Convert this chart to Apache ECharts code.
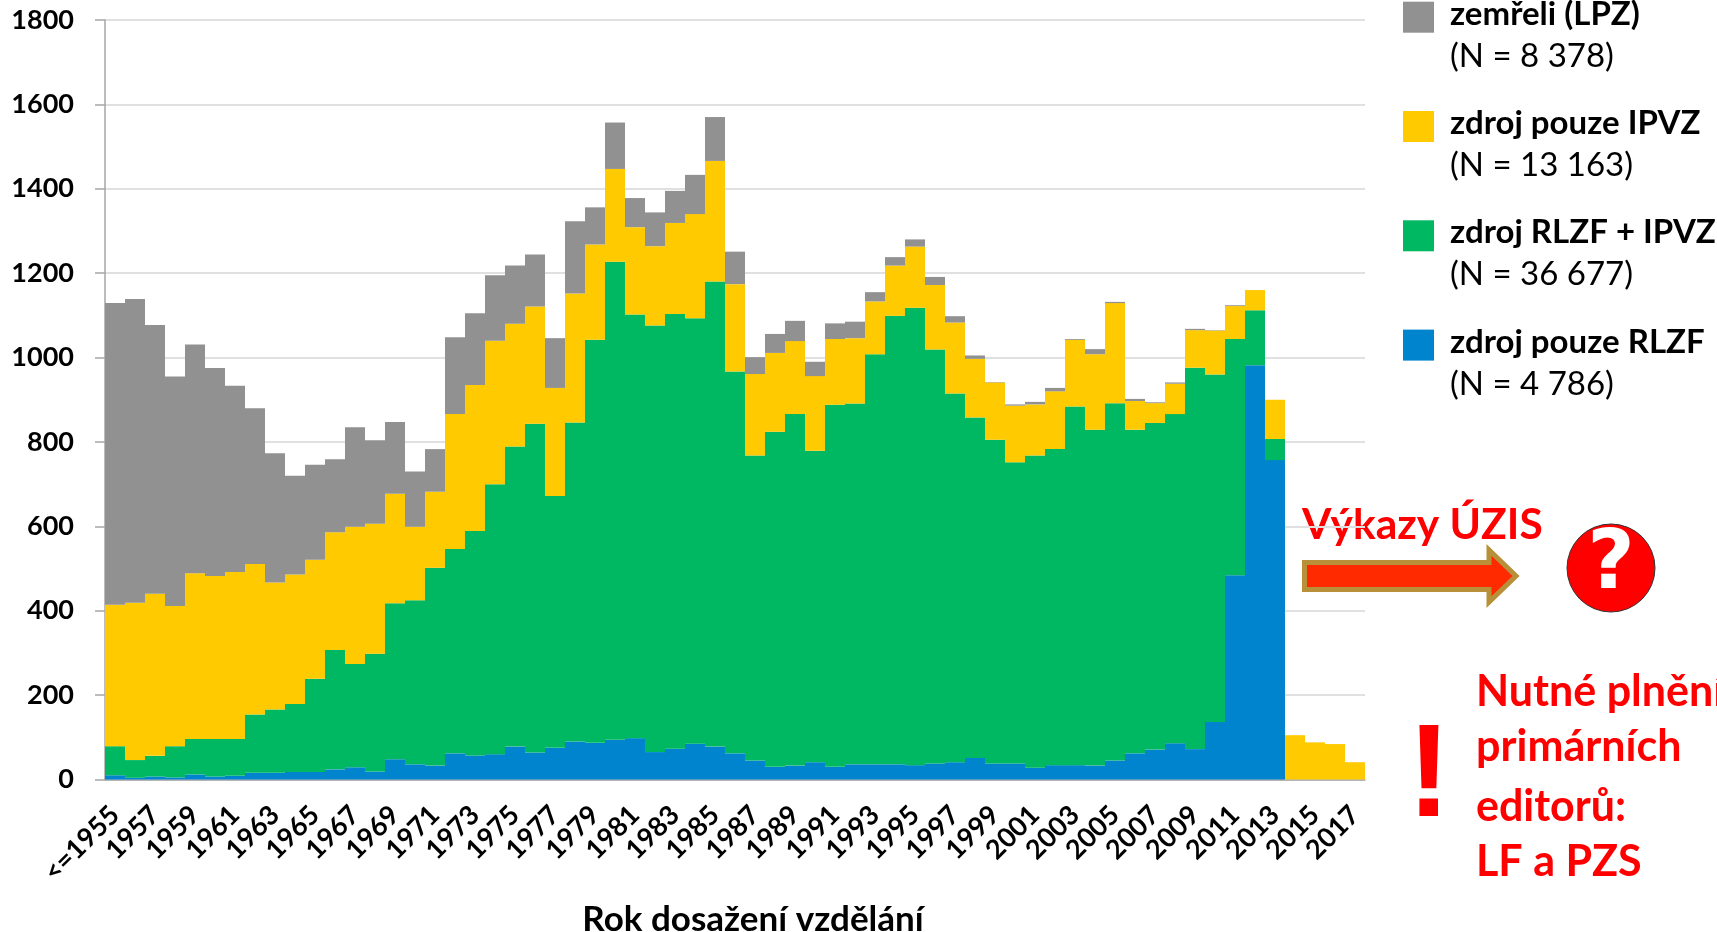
<!DOCTYPE html>
<html>
<head>
<meta charset="utf-8">
<title>Rok dosažení vzdělání</title>
<script src="https://cdn.jsdelivr.net/npm/echarts@6/dist/echarts.min.js"></script>
<style>
  html, body { margin: 0; padding: 0; background: #fff; overflow: hidden; }
  #chart { width: 1717px; height: 932px; }
</style>
</head>
<body>
<div id="chart"></div>
<script>
const years = [
  "<=1955", "1956", "1957", "1958", "1959", "1960", "1961", "1962", "1963", "1964", "1965",
  "1966", "1967", "1968", "1969", "1970", "1971", "1972", "1973", "1974", "1975",
  "1976", "1977", "1978", "1979", "1980", "1981", "1982", "1983", "1984", "1985",
  "1986", "1987", "1988", "1989", "1990", "1991", "1992", "1993", "1994", "1995",
  "1996", "1997", "1998", "1999", "2000", "2001", "2002", "2003", "2004", "2005",
  "2006", "2007", "2008", "2009", "2010", "2011", "2012", "2013", "2014", "2015",
  "2016", "2017",
];
const pouzeRlzf = [
  10, 4, 7, 5, 12, 7, 9, 16, 16, 18, 18,
  24, 29, 19, 48, 36, 33, 62, 57, 60, 78,
  64, 75, 90, 87, 94, 98, 65, 73, 85, 78,
  62, 45, 30, 33, 41, 30, 36, 36, 36, 34,
  38, 41, 51, 38, 38, 28, 34, 34, 33, 45,
  62, 71, 86, 72, 136, 484, 982, 757, 0, 0,
  0, 0,
];
const rlzfIpvz = [
  69, 42, 49, 74, 84, 89, 87, 138, 150, 161, 221,
  283, 245, 279, 370, 389, 469, 484, 532, 640, 711,
  779, 597, 756, 955, 1133, 1004, 1011, 1030, 1008, 1102,
  905, 723, 794, 833, 738, 858, 855, 972, 1063, 1084,
  981, 874, 807, 767, 714, 740, 749, 850, 796, 847,
  767, 774, 780, 904, 824, 560, 130, 50, 0, 0,
  0, 0,
];
const pouzeIpvz = [
  335, 373, 384, 332, 393, 386, 396, 357, 301, 307, 282,
  279, 325, 308, 259, 174, 180, 320, 346, 340, 291,
  278, 256, 306, 226, 220, 207, 188, 216, 247, 286,
  207, 193, 187, 173, 177, 156, 155, 125, 119, 145,
  153, 168, 139, 136, 134, 121, 137, 158, 179, 237,
  68, 47, 72, 89, 104, 78, 48, 93, 105, 88,
  84, 41,
];
const zemreli = [
  715, 720, 637, 544, 542, 493, 441, 369, 306, 234, 225,
  173, 236, 198, 170, 131, 101, 182, 170, 155, 138,
  123, 118, 171, 88, 110, 69, 80, 76, 93, 104,
  77, 40, 45, 48, 34, 37, 39, 22, 20, 17,
  19, 15, 8, 1, 3, 6, 8, 2, 12, 3,
  5, 2, 3, 3, 1, 2, 0, 0, 0, 0,
  0, 0,
];
const legendCounts = {
  "zemřeli (LPZ)": "8 378",
  "zdroj pouze IPVZ": "13 163",
  "zdroj RLZF + IPVZ": "36 677",
  "zdroj pouze RLZF": "4 786",
};

const font = "Lato";
const chart = echarts.init(document.getElementById("chart"));

function barSeries(name, color, data) {
  return {
    name: name,
    type: "bar",
    stack: "all",
    barCategoryGap: 0,
    itemStyle: { color: color, borderWidth: 0 },
    data: data,
  };
}

function redText(text, x, y, size) {
  return {
    type: "text",
    x: x,
    y: y,
    style: {
      text: text,
      fontFamily: font,
      fontWeight: "bold",
      fontSize: size,
      fill: "#ff0000",
      verticalAlign: "middle",
    },
  };
}

const option = {
  animation: false,
  backgroundColor: "#fff",
  textStyle: { fontFamily: font },
  grid: { left: 105, right: 352, top: 20, bottom: 152.5, outerBoundsMode: "none" },
  legend: {
    orient: "vertical",
    left: 1403,
    top: -44.3,
    itemWidth: 31,
    itemHeight: 31,
    itemGap: -7.7,
    icon: "rect",
    padding: 0,
    itemStyle: { borderWidth: 0 },
    data: Object.keys(legendCounts),
    formatter: (name) => `{b| }\n{b|${name}}\n{n|(N = ${legendCounts[name]})}`,
    textStyle: {
      padding: [0, 0, 6, 11],
      rich: {
        b: { fontFamily: font, fontWeight: "bold", fontSize: 33, lineHeight: 42, color: "#000" },
        n: { fontFamily: font, fontSize: 33, lineHeight: 42, color: "#000" },
      },
    },
  },
  xAxis: {
    type: "category",
    data: years,
    name: "Rok dosažení vzdělání",
    nameLocation: "middle",
    nameGap: 123,
    nameTextStyle: {
      fontFamily: font,
      fontWeight: "bold",
      fontSize: 35,
      color: "#000",
      padding: [0, 0, 0, 36],
    },
    axisLine: { lineStyle: { color: "#a6a6a6", width: 1.5 } },
    axisTick: { interval: 0, length: 10, lineStyle: { color: "#a6a6a6", width: 1.5 } },
    axisLabel: {
      interval: 1,
      rotate: 45,
      margin: 31,
      fontFamily: font,
      fontWeight: "bold",
      fontSize: 27,
      color: "#000",
    },
  },
  yAxis: {
    type: "value",
    min: 0,
    max: 1800,
    interval: 200,
    axisLine: { show: true, lineStyle: { color: "#a6a6a6", width: 1.5 } },
    axisTick: { show: true, length: 10, lineStyle: { color: "#a6a6a6", width: 1.5 } },
    splitLine: { lineStyle: { color: "#e0e0e0", width: 2 } },
    axisLabel: {
      margin: 31,
      padding: [6, 0, 0, 0],
      fontFamily: font,
      fontWeight: "bold",
      fontSize: 27,
      color: "#000",
      formatter: (v) => String(v),
    },
  },
  series: [
    barSeries("zdroj pouze RLZF", "#0084CE", pouzeRlzf),
    barSeries("zdroj RLZF + IPVZ", "#00B862", rlzfIpvz),
    barSeries("zdroj pouze IPVZ", "#FFCA00", pouzeIpvz),
    barSeries("zemřeli (LPZ)", "#919191", zemreli),
  ],
  graphic: [
    // annotations to the right of the plot
    redText("Výkazy ÚZIS", 1302, 525, 42.5),
    {
      type: "polygon",
      shape: {
        points: [
          [1304.5, 562.5], [1489, 562.5], [1489, 550], [1516, 576],
          [1489, 602], [1489, 589.5], [1304.5, 589.5],
        ],
      },
      style: { fill: "#FF2A00", stroke: "#B8903A", lineWidth: 5, lineJoin: "miter" },
    },
    {
      type: "circle",
      shape: { cx: 1611, cy: 568, r: 44 },
      style: { fill: "#ff0000", stroke: "#333", lineWidth: 1 },
    },
    {
      type: "text",
      x: 1611,
      y: 567,
      style: {
        text: "?",
        fontFamily: "DejaVu Sans",
        fontWeight: "bold",
        fontSize: 82,
        fill: "#fff",
        align: "center",
        verticalAlign: "middle",
      },
    },
    {
      type: "text",
      x: 1429,
      y: 780,
      style: {
        text: "!",
        fontFamily: "Liberation Sans",
        fontWeight: "bold",
        fontSize: 132,
        fill: "#ff0000",
        align: "center",
        verticalAlign: "middle",
      },
    },
    redText("Nutné plnění", 1476, 692, 43),
    redText("primárních", 1476, 747, 43),
    redText("editorů:", 1476, 807, 43),
    redText("LF a PZS", 1476, 862, 43),
  ],
};

chart.setOption(option);
</script>
</body>
</html>
